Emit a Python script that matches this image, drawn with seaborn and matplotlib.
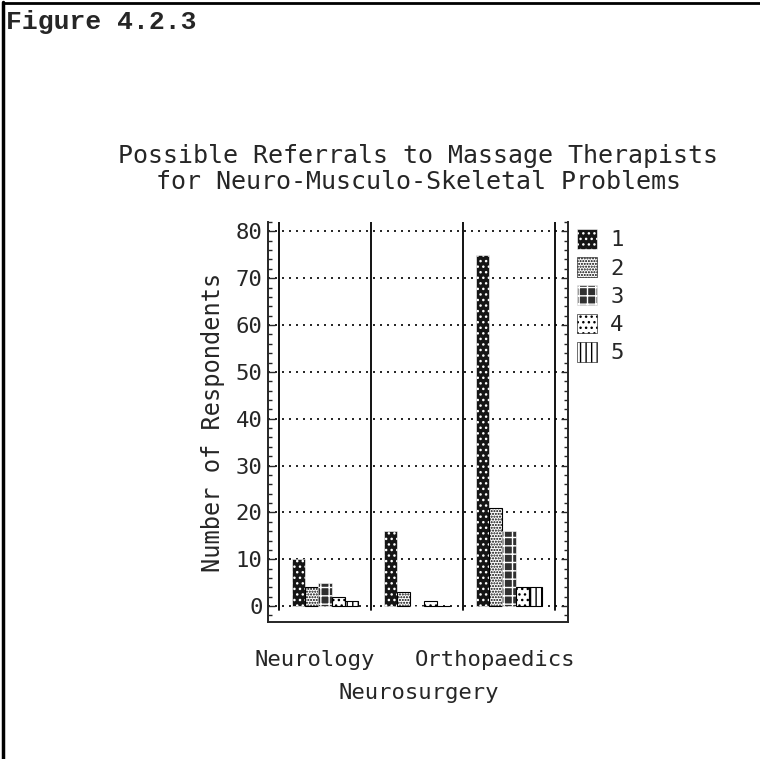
"""Possible referrals to massage therapists for neuro-musculo-skeletal problems"""
import matplotlib

matplotlib.use("Agg")
from matplotlib import pyplot as plt
from matplotlib.lines import Line2D
from matplotlib.patches import Patch
from matplotlib.ticker import MultipleLocator
from matplotlib.transforms import ScaledTranslation
from pandas import DataFrame
import seaborn as sns

specialties = ["Neurology", "Neurosurgery", "Orthopaedics"]
ratings = ["1", "2", "3", "4", "5"]
rating_1 = [10, 16, 75]
rating_2 = [4, 3, 21]
rating_3 = [5, 0, 16]
rating_4 = [2, 1, 4]
rating_5 = [1, 0, 4]
tick_labels = ["Neurology", "Neurosurgery", "Orthopaedics"]

# hatch look per rating: (face, hatch colour, hatch)
styles = {
    "1": ("#151515", "white", "..."),
    "2": ("white", "black", "......"),
    "3": ("#303030", "white", "++"),
    "4": ("white", "black", "..."),
    "5": ("white", "black", "|||"),
}

df = DataFrame(
    {"Specialty": specialties, "1": rating_1, "2": rating_2,
     "3": rating_3, "4": rating_4, "5": rating_5}
).melt(id_vars="Specialty", var_name="Rating", value_name="Count")

sns.set_style("ticks")
plt.rcParams["font.family"] = ["DejaVu Sans Mono", "DejaVu Sans"]
plt.rcParams["hatch.linewidth"] = 1.0

fig = plt.figure(figsize=(7.6, 7.59), dpi=100)
ax = fig.add_axes([268 / 760, 1 - 622 / 759, 300 / 760, (622 - 222) / 759])

sns.barplot(
    data=df, x="Specialty", y="Count", hue="Rating", order=specialties,
    hue_order=ratings, palette=["white"] * 5, width=0.72, dodge=True,
    edgecolor="black", linewidth=0.8, legend=False, ax=ax,
)

for container, r in zip(ax.containers, ratings):
    face, hcol, hatch = styles[r]
    for bar in container:
        bar.set_facecolor(face)
        bar.set_hatch(hatch)
        bar.set_edgecolor(hcol)
        bar.set_linewidth(0.4 if hcol == "white" else 0.8)

ax.set_xlim(-0.62, 2.64)
ax.set_ylim(-3.4, 82)
ax.yaxis.set_major_locator(MultipleLocator(10))
ax.yaxis.set_minor_locator(MultipleLocator(2))
ax.set_yticks(range(0, 81, 10))
ax.yaxis.grid(True, which="major", color="black", linestyle=(0, (1.2, 3)), linewidth=1.2)
for sep in [-0.5, 0.5, 1.5, 2.5]:
    ax.axvline(sep, ymin=(0 + 3.4) / 85.4 - 0.01, ymax=1, color="black", linewidth=1.3)

ax.tick_params(axis="y", which="both", direction="in", right=True, length=5,
               width=1, labelsize=16, pad=4)
ax.tick_params(axis="y", which="minor", length=3)
ax.tick_params(axis="x", length=0, labelsize=16, pad=20)
ax.set_xticks(range(3))
ax.set_xticklabels(tick_labels)
# middle label sits on a second row, as in the reference
labels = ax.get_xticklabels()
labels[1].set_y(-0.083)
for lab, dx in zip(labels, [-10, 2, -14]):
    lab.set_transform(lab.get_transform() + ScaledTranslation(dx / 100, 0, fig.dpi_scale_trans))
ax.set_xlabel("")
ax.set_ylabel("Number of Respondents", fontsize=17, labelpad=8)
for s in ["left", "right", "bottom"]:
    ax.spines[s].set_linewidth(1.4)
ax.spines["top"].set_visible(False)

ax.set_title("Possible Referrals to Massage Therapists\nfor Neuro-Musculo-Skeletal Problems",
             fontsize=18, pad=24, linespacing=1.1)

handles = [Patch(facecolor=styles[r][0], edgecolor=styles[r][1], hatch=styles[r][2],
                 linewidth=0.4) for r in ratings]
fig.legend(handles, ratings, loc="upper left", bbox_to_anchor=(568 / 760, 1 - 220 / 759),
           frameon=False, fontsize=16, handlelength=0.9, handleheight=1.0,
           handletextpad=0.6, labelspacing=0.3, borderaxespad=0)

fig.text(6 / 760, 1 - 22 / 759, "Figure 4.2.3", fontsize=19, fontweight="bold",
         family=["Liberation Mono", "DejaVu Sans Mono"], va="center", ha="left")
fig.add_artist(Line2D([3 / 760, 3 / 760], [0, 1 - 2 / 759], color="black", linewidth=2.5))
fig.add_artist(Line2D([3 / 760, 1], [1 - 3 / 759, 1 - 3 / 759], color="black", linewidth=2))

plt.savefig("out.png", dpi=100)
